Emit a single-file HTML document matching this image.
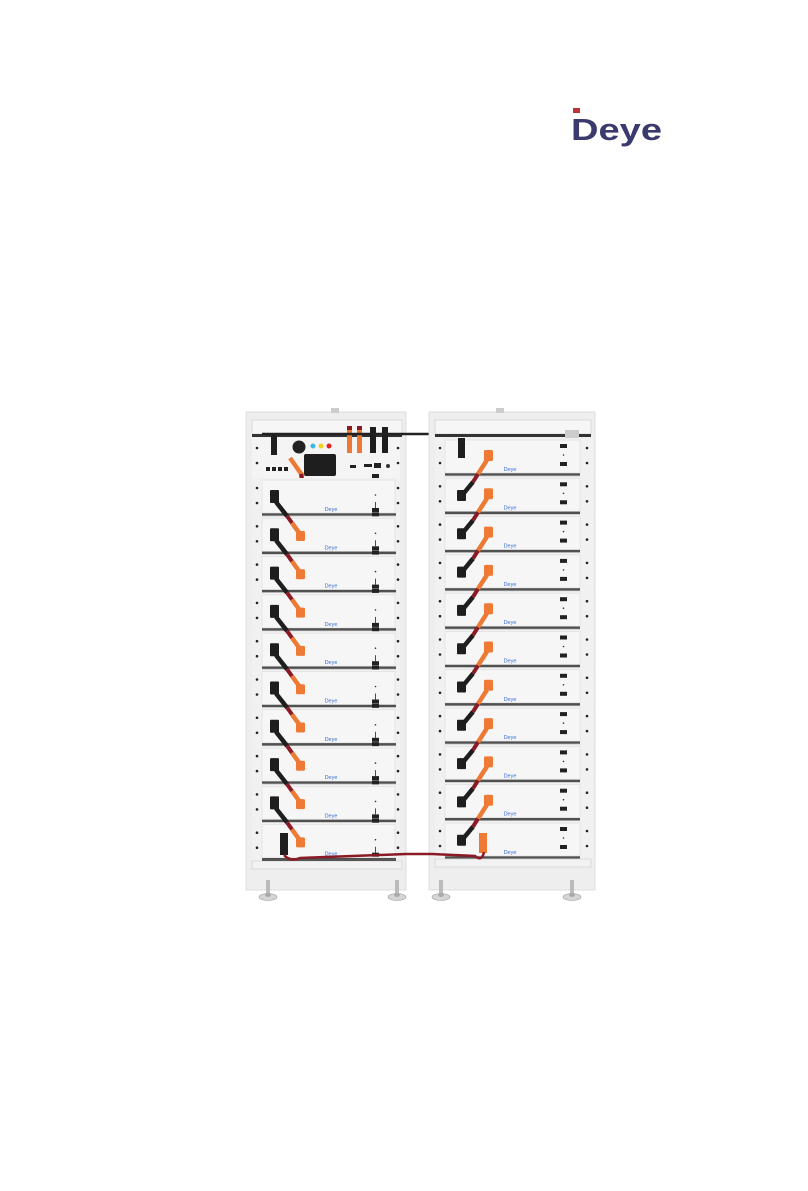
<!DOCTYPE html>
<html><head><meta charset="utf-8"><style>
html,body{margin:0;padding:0;background:#fff;width:808px;height:1191px;overflow:hidden}
</style></head><body>
<svg width="808" height="1191" viewBox="0 0 808 1191" xmlns="http://www.w3.org/2000/svg" font-family="Liberation Sans, sans-serif">
<defs>
<g id="modL">
  <rect x="252" y="0" width="148" height="38.3" fill="#f1f1f2"/>
  <rect x="262" y="2" width="133" height="33" fill="#f6f6f7" stroke="#dcdcdc" stroke-width="0.6"/>
  <circle cx="257" cy="10" r="1.3" fill="#222"/><circle cx="257" cy="25" r="1.3" fill="#222"/>
  <circle cx="398" cy="10" r="1.3" fill="#222"/><circle cx="398" cy="25" r="1.3" fill="#222"/>
  <rect x="372" y="-4" width="7" height="4" fill="#222"/>
  <rect x="372" y="30" width="7" height="4" fill="#222"/>
  <line x1="375.5" y1="24" x2="375.5" y2="30" stroke="#222" stroke-width="0.8"/>
  <circle cx="375.5" cy="17" r="0.8" fill="#333"/>
  <text x="331" y="33" font-size="5.5" fill="#3a6fd0" text-anchor="middle">Deye</text>
  <rect x="262" y="35.3" width="134" height="2.4" fill="#505050"/>
  <rect x="262" y="37.7" width="134" height="0.8" fill="#bbb"/>
</g>
<g id="cabL">
  <rect x="270" y="12" width="9" height="13" rx="1" fill="#1e1e1e"/>
  <path d="M276 24 L287 38" stroke="#1e1e1e" stroke-width="4.5" fill="none"/>
  <path d="M287 38 L292 45" stroke="#8a1a24" stroke-width="4" fill="none"/>
  <path d="M292 45 L300 56" stroke="#ec7a34" stroke-width="4.5" fill="none"/>
  <rect x="296" y="53" width="9" height="10" rx="1.5" fill="#ee7a36"/>
</g>
<g id="modR">
  <rect x="435" y="0" width="158" height="38.3" fill="#f1f1f2"/>
  <rect x="445" y="2" width="135" height="33" fill="#f6f6f7" stroke="#dcdcdc" stroke-width="0.6"/>
  <circle cx="440" cy="10" r="1.3" fill="#222"/><circle cx="440" cy="25" r="1.3" fill="#222"/>
  <circle cx="587" cy="10" r="1.3" fill="#222"/><circle cx="587" cy="25" r="1.3" fill="#222"/>
  <rect x="560" y="6" width="7" height="4" fill="#222"/>
  <rect x="560" y="24" width="7" height="4" fill="#222"/>
  <circle cx="563.5" cy="17" r="0.8" fill="#333"/>
  <text x="510" y="33" font-size="5.5" fill="#3a6fd0" text-anchor="middle">Deye</text>
  <rect x="445" y="35.3" width="135" height="2.4" fill="#505050"/>
  <rect x="445" y="37.7" width="135" height="0.8" fill="#bbb"/>
</g>
<g id="cabR">
  <rect x="484" y="12" width="9" height="11" rx="1.5" fill="#ee7a36"/>
  <path d="M487 22 L478 36" stroke="#ec7a34" stroke-width="4.5" fill="none"/>
  <path d="M478 36 L473 44" stroke="#8a1a24" stroke-width="4" fill="none"/>
  <path d="M473 44 L464 55" stroke="#1e1e1e" stroke-width="4.5" fill="none"/>
  <rect x="457" y="52" width="9" height="11" rx="1" fill="#1e1e1e"/>
</g>
<g id="foot">
  <rect x="-2" y="0" width="4" height="14" fill="#bbb"/>
  <ellipse cx="0" cy="17" rx="9" ry="3.5" fill="#d5d5d5" stroke="#999" stroke-width="0.6"/>
  <ellipse cx="0" cy="15" rx="3" ry="2" fill="#aaa"/>
</g>
</defs>

<!-- logo -->
<rect x="573" y="108" width="7" height="5" fill="#c0323a"/>
<text x="571" y="140" font-size="31" font-weight="bold" fill="#3a3a6e" textLength="91" lengthAdjust="spacingAndGlyphs">Deye</text>

<!-- left rack frame -->
<rect x="246" y="412" width="160" height="478" fill="#eeeeee" stroke="#d8d8d8" stroke-width="0.8"/>
<rect x="252" y="420" width="150" height="14" fill="#f6f6f6" stroke="#ccc" stroke-width="0.6"/>
<rect x="252" y="434" width="150" height="3" fill="#333"/>
<rect x="331" y="408" width="8" height="5" fill="#ccc"/>
<!-- control box -->
<rect x="252" y="438" width="148" height="40" fill="#f4f4f5"/>
<circle cx="257" cy="448" r="1.3" fill="#222"/><circle cx="257" cy="463" r="1.3" fill="#222"/>
<circle cx="398" cy="448" r="1.3" fill="#222"/><circle cx="398" cy="463" r="1.3" fill="#222"/>
<rect x="271" y="433" width="6" height="22" fill="#1e1e1e"/>
<circle cx="299" cy="447" r="6.5" fill="#222"/>
<circle cx="313" cy="446" r="2.5" fill="#3db8e6"/><circle cx="321" cy="446" r="2.5" fill="#f0d320"/><circle cx="329" cy="446" r="2.5" fill="#e32222"/>
<rect x="304" y="454" width="32" height="22" rx="2" fill="#1e1e1e"/>
<rect x="266" y="467" width="4" height="4" fill="#222"/><rect x="272" y="467" width="4" height="4" fill="#222"/><rect x="278" y="467" width="4" height="4" fill="#222"/><rect x="284" y="467" width="4" height="4" fill="#222"/>
<rect x="347" y="427" width="5" height="26" fill="#ec7a34"/><rect x="357" y="427" width="5" height="26" fill="#ec7a34"/>
<rect x="347" y="426" width="5" height="4" fill="#8a1a24"/><rect x="357" y="426" width="5" height="4" fill="#8a1a24"/>
<rect x="370" y="427" width="6" height="26" fill="#1e1e1e"/><rect x="382" y="427" width="6" height="26" fill="#1e1e1e"/>
<rect x="350" y="465" width="6" height="3" fill="#222"/><rect x="364" y="464" width="8" height="3" fill="#222"/><rect x="374" y="463" width="7" height="5" fill="#222"/><circle cx="388" cy="466" r="2" fill="#333"/>
<path d="M290 458 L302 475 L300 490" stroke="#ec7a34" stroke-width="4.5" fill="none"/>
<path d="M301 474 L302 480" stroke="#8a1a24" stroke-width="4"/>
<rect x="295" y="488" width="10" height="10" rx="1.5" fill="#ee7a36"/>
<path d="M262 434 L445 434" stroke="#222" stroke-width="2.5"/>

<use href="#modL" y="478"/><use href="#modL" y="516.3"/><use href="#modL" y="554.6"/><use href="#modL" y="592.9"/><use href="#modL" y="631.2"/>
<use href="#modL" y="669.5"/><use href="#modL" y="707.8"/><use href="#modL" y="746.1"/><use href="#modL" y="784.4"/><use href="#modL" y="822.7"/>
<use href="#cabL" y="478"/><use href="#cabL" y="516.3"/><use href="#cabL" y="554.6"/><use href="#cabL" y="592.9"/><use href="#cabL" y="631.2"/>
<use href="#cabL" y="669.5"/><use href="#cabL" y="707.8"/><use href="#cabL" y="746.1"/><use href="#cabL" y="784.4"/>
<rect x="280" y="833" width="8" height="22" fill="#1e1e1e"/>

<rect x="252" y="861" width="150" height="8" fill="#f2f2f2" stroke="#ccc" stroke-width="0.6"/>
<rect x="262" y="859" width="134" height="2" fill="#555"/>

<!-- right rack frame -->
<rect x="429" y="412" width="166" height="478" fill="#eeeeee" stroke="#d8d8d8" stroke-width="0.8"/>
<rect x="435" y="420" width="156" height="14" fill="#f6f6f6" stroke="#ccc" stroke-width="0.6"/>
<rect x="435" y="434" width="156" height="3" fill="#333"/>
<rect x="496" y="408" width="8" height="5" fill="#ccc"/>
<rect x="565" y="430" width="14" height="8" fill="#ccc"/>
<use href="#modR" y="438"/><use href="#modR" y="476.3"/><use href="#modR" y="514.6"/><use href="#modR" y="552.9"/><use href="#modR" y="591.2"/>
<use href="#modR" y="629.5"/><use href="#modR" y="667.8"/><use href="#modR" y="706.1"/><use href="#modR" y="744.4"/><use href="#modR" y="782.7"/><use href="#modR" y="821"/>
<rect x="458" y="438" width="7" height="20" fill="#1e1e1e"/>
<use href="#cabR" y="438"/><use href="#cabR" y="476.3"/><use href="#cabR" y="514.6"/><use href="#cabR" y="552.9"/><use href="#cabR" y="591.2"/>
<use href="#cabR" y="629.5"/><use href="#cabR" y="667.8"/><use href="#cabR" y="706.1"/><use href="#cabR" y="744.4"/><use href="#cabR" y="782.7"/>
<rect x="479" y="833" width="8" height="20" fill="#ee7a36"/>
<rect x="435" y="859" width="156" height="8" fill="#f2f2f2" stroke="#ccc" stroke-width="0.6"/>

<path d="M284 855 Q290 862 300 858 L406 854 L432 854 L475 856 Q482 862 484 852" stroke="#8a1a24" stroke-width="2.5" fill="none"/>

<use href="#foot" x="268" y="880"/><use href="#foot" x="397" y="880"/>
<use href="#foot" x="441" y="880"/><use href="#foot" x="572" y="880"/>
</svg>
</body></html>
